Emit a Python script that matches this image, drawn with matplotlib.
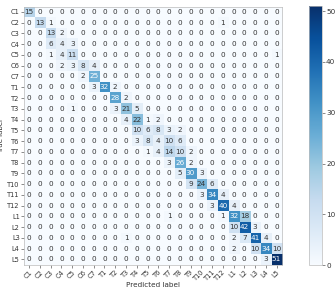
import matplotlib

matplotlib.use("Agg")
import matplotlib.pyplot as plt
import numpy as np

labels = ["C1", "C2", "C3", "C4", "C5", "C6", "C7",
          "T1", "T2", "T3", "T4", "T5", "T6", "T7", "T8", "T9", "T10", "T11", "T12",
          "L1", "L2", "L3", "L4", "L5"]

# non-zero cells: (true row, predicted col, count)
nonzero = [
    (0, 0, 15),
    (1, 1, 13), (1, 2, 1), (1, 18, 1),
    (2, 2, 13), (2, 3, 2),
    (3, 2, 6), (3, 3, 4), (3, 4, 3),
    (4, 2, 1), (4, 3, 4), (4, 4, 11), (4, 23, 1),
    (5, 3, 2), (5, 4, 3), (5, 5, 8), (5, 6, 4),
    (6, 5, 2), (6, 6, 25),
    (7, 6, 3), (7, 7, 32), (7, 8, 2),
    (8, 8, 28), (8, 9, 2),
    (9, 4, 1), (9, 8, 3), (9, 9, 21), (9, 10, 5),
    (10, 9, 4), (10, 10, 22), (10, 11, 1), (10, 12, 2),
    (11, 10, 10), (11, 11, 6), (11, 12, 8), (11, 13, 3), (11, 14, 2),
    (12, 10, 3), (12, 11, 8), (12, 12, 4), (12, 13, 10), (12, 14, 6),
    (13, 11, 1), (13, 12, 4), (13, 13, 14), (13, 14, 10), (13, 15, 2),
    (14, 13, 3), (14, 14, 26), (14, 15, 2),
    (15, 14, 5), (15, 15, 30), (15, 16, 3),
    (16, 15, 9), (16, 16, 24), (16, 17, 6),
    (17, 16, 3), (17, 17, 34), (17, 18, 4),
    (18, 17, 3), (18, 18, 40), (18, 19, 4),
    (19, 13, 1), (19, 18, 1), (19, 19, 32), (19, 20, 18),
    (20, 19, 10), (20, 20, 42), (20, 21, 3),
    (21, 9, 1), (21, 19, 2), (21, 20, 7), (21, 21, 41), (21, 22, 4),
    (22, 19, 2), (22, 21, 10), (22, 22, 34), (22, 23, 10),
    (23, 22, 3), (23, 23, 51),
]

n = len(labels)
cm = np.zeros((n, n), dtype=int)
for r, c, v in nonzero:
    cm[r, c] = v

fig = plt.figure(figsize=(3.36, 2.92), dpi=100)
ax = fig.add_axes([0.071, 0.092, 0.768, 0.887])
cax = fig.add_axes([0.92, 0.092, 0.038, 0.887])

im = ax.imshow(cm, interpolation="nearest", cmap="Blues", vmin=0, vmax=cm.max())
cb = fig.colorbar(im, cax=cax)
cb.set_ticks([0, 10, 20, 30, 40, 50])
cb.ax.tick_params(labelsize=5.2, length=2, width=0.4, pad=1, colors="#333333")
cb.outline.set_edgecolor("#bbbbbb")
cb.outline.set_linewidth(0.5)

ticks = np.arange(n)
ax.set_xticks(ticks)
ax.set_yticks(ticks)
ax.set_xticklabels(labels, rotation=45, fontsize=4.8, ha="right", rotation_mode="anchor")
ax.set_yticklabels(labels, fontsize=4.8)
ax.tick_params(length=2, width=0.4, pad=1, colors="#333333")
for s in ax.spines.values():
    s.set_edgecolor("#bbbbbb")
    s.set_linewidth(0.5)

thresh = 24.5
for i in range(n):
    for j in range(n):
        ax.text(j, i, str(cm[i, j]), ha="center", va="center", fontsize=5.2,
                color="white" if cm[i, j] > thresh else "#333333")

ax.set_ylabel("True label", fontsize=5.0, color="#333333")
ax.yaxis.set_label_coords(-0.076, 0.5)
ax.set_xlabel("Predicted label", fontsize=5.2, color="#333333")
ax.xaxis.set_label_coords(0.5, -0.068)

fig.savefig("out.png")
plt.close(fig)
